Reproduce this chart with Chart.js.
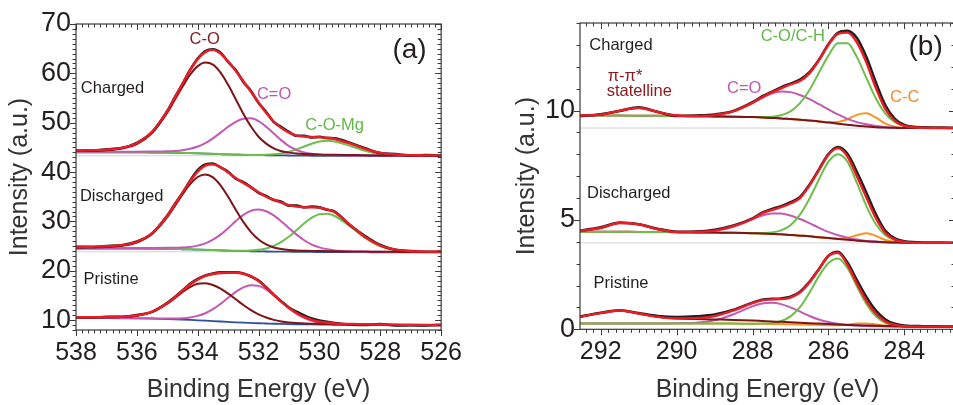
<!DOCTYPE html>
<html>
<head>
<meta charset="utf-8">
<script src="https://cdn.jsdelivr.net/npm/chart.js@4.4.1/dist/chart.umd.min.js"></script>
<style>
  html, body { margin: 0; padding: 0; background: #fff; }
  body { width: 953px; height: 405px; overflow: hidden; position: relative; }
  canvas { position: absolute; top: 0; }
  #chartO { left: 0; }
  #chartC { left: 478px; }
</style>
</head>
<body>
<canvas id="chartO" width="470" height="405"></canvas>
<canvas id="chartC" width="478" height="405"></canvas>
<script>
// ---- O 1s panel (a) ----
var energyO = [538, 537.5, 537, 536.5, 536, 535.5, 535, 534.75, 534.5, 534.25, 534, 533.75, 533.5, 533.25, 533, 532.75, 532.5, 532.25, 532, 531.75, 531.5, 531.25, 531, 530.75, 530.5, 530.25, 530, 529.75, 529.5, 529, 528.5, 528, 527.5, 527, 526.5, 526];

var chargedO_data = [44.37, 44.39, 44.6, 44.86, 45.93, 48.09, 52.37, 55.17, 57.81, 60.69, 63.01, 64.53, 64.85, 64.18, 62.32, 60.65, 58.27, 56.4, 54.0, 52.18, 50.15, 49.13, 48.13, 47.35, 47.35, 47.0, 47.15, 46.9, 46.85, 45.93, 44.83, 43.85, 43.63, 43.37, 43.44, 43.34];
var chargedO_fit = [44.37, 44.42, 44.55, 44.91, 45.85, 48.14, 52.34, 55.07, 57.89, 60.64, 62.88, 64.3, 64.75, 64.0, 62.4, 60.5, 58.4, 56.3, 54.1, 52.0, 50.2, 48.9, 48.0, 47.4, 47.2, 47.1, 47.05, 46.95, 46.7, 45.8, 44.7, 43.9, 43.55, 43.42, 43.39, 43.37];
var chargedO_CO = [44.25, 44.3, 44.43, 44.77, 45.68, 47.92, 52.03, 54.66, 57.29, 59.72, 61.46, 62.2, 61.76, 60.16, 57.67, 54.76, 51.82, 49.23, 47.16, 45.77, 44.81, 44.23, 43.94, 43.74, 43.64, 43.59, 43.55, 43.52, 43.49, 43.45, 43.41, 43.38, 43.36, 43.34, 43.33, 43.32];
var chargedO_CdO = [44.1, 44.1, 44.1, 44.12, 44.13, 44.16, 44.22, 44.29, 44.44, 44.72, 45.17, 45.88, 46.83, 47.99, 49.17, 50.18, 50.79, 50.88, 50.31, 49.19, 47.79, 46.42, 45.27, 44.48, 43.99, 43.69, 43.53, 43.44, 43.4, 43.37, 43.34, 43.32, 43.31, 43.29, 43.29, 43.29];
var chargedO_COMg = [44.02, 44.02, 44.02, 44.02, 44.0, 43.98, 43.95, 43.92, 43.88, 43.84, 43.79, 43.74, 43.69, 43.64, 43.59, 43.55, 43.51, 43.48, 43.46, 43.5, 43.59, 43.78, 44.12, 44.59, 45.18, 45.75, 46.19, 46.34, 46.2, 45.34, 44.29, 43.62, 43.34, 43.26, 43.25, 43.24];
var chargedO_bg = [44.0, 44.0, 44.0, 44.0, 43.98, 43.96, 43.93, 43.9, 43.86, 43.82, 43.77, 43.72, 43.67, 43.62, 43.57, 43.53, 43.49, 43.46, 43.43, 43.41, 43.39, 43.37, 43.36, 43.34, 43.33, 43.31, 43.3, 43.29, 43.28, 43.27, 43.26, 43.25, 43.25, 43.24, 43.24, 43.24];

var dischargedO_data = [24.85, 24.82, 25.01, 25.16, 25.92, 27.58, 31.19, 33.53, 35.75, 38.26, 40.4, 41.55, 41.7, 40.95, 40.08, 38.65, 37.95, 36.95, 35.77, 35.15, 34.35, 33.98, 33.2, 33.2, 32.82, 33.0, 32.85, 32.35, 32.0, 29.29, 27.04, 25.22, 24.24, 24.02, 23.85, 23.88];
var dischargedO_fit = [24.82, 24.87, 24.96, 25.19, 25.87, 27.63, 31.11, 33.43, 35.85, 38.11, 40.1, 41.3, 41.55, 41.0, 39.9, 38.8, 37.8, 36.9, 35.9, 35.0, 34.4, 33.8, 33.3, 33.0, 32.9, 32.85, 32.8, 32.45, 31.85, 29.34, 26.86, 25.12, 24.29, 23.97, 23.88, 23.85];
var dischargedO_CO = [24.7, 24.75, 24.84, 25.07, 25.73, 27.46, 30.88, 33.14, 35.47, 37.57, 39.0, 39.52, 38.93, 37.31, 34.98, 32.38, 29.91, 27.85, 26.34, 25.34, 24.73, 24.4, 24.21, 24.11, 24.07, 24.03, 24.0, 23.97, 23.94, 23.91, 23.88, 23.85, 23.84, 23.82, 23.81, 23.8];
var dischargedO_CdO = [24.6, 24.6, 24.6, 24.6, 24.6, 24.61, 24.64, 24.67, 24.72, 24.84, 25.1, 25.55, 26.29, 27.32, 28.64, 30.06, 31.32, 32.17, 32.43, 32.07, 31.21, 29.99, 28.63, 27.32, 26.19, 25.31, 24.74, 24.36, 24.13, 23.92, 23.86, 23.83, 23.82, 23.8, 23.79, 23.79];
var dischargedO_COMg = [24.52, 24.52, 24.52, 24.52, 24.5, 24.48, 24.45, 24.42, 24.38, 24.34, 24.29, 24.24, 24.19, 24.14, 24.09, 24.05, 24.05, 24.1, 24.24, 24.53, 25.05, 25.84, 26.93, 28.24, 29.6, 30.75, 31.46, 31.55, 31.1, 29.05, 26.64, 24.94, 24.13, 23.83, 23.76, 23.74];
var dischargedO_bg = [24.5, 24.5, 24.5, 24.5, 24.48, 24.46, 24.43, 24.4, 24.36, 24.32, 24.27, 24.22, 24.17, 24.12, 24.07, 24.03, 23.99, 23.96, 23.93, 23.91, 23.89, 23.87, 23.86, 23.84, 23.83, 23.81, 23.8, 23.79, 23.78, 23.77, 23.76, 23.75, 23.75, 23.74, 23.74, 23.74];

var pristineO_data = [10.57, 10.53, 10.66, 10.68, 11.02, 11.68, 13.49, 14.71, 16.01, 17.35, 18.35, 19.03, 19.45, 19.68, 19.68, 19.7, 19.45, 18.85, 18.0, 16.65, 15.15, 13.8, 12.55, 11.7, 10.95, 10.35, 9.93, 9.66, 9.43, 9.11, 9.0, 9.21, 8.93, 8.95, 8.93, 9.07];
var pristineO_fit = [10.57, 10.58, 10.61, 10.68, 10.94, 11.73, 13.44, 14.63, 15.96, 17.22, 18.2, 18.95, 19.35, 19.55, 19.6, 19.6, 19.4, 18.9, 17.9, 16.6, 15.1, 13.7, 12.45, 11.4, 10.6, 10.05, 9.68, 9.46, 9.33, 9.21, 9.15, 9.11, 9.08, 9.05, 9.03, 9.02];
var pristineO_CO = [10.52, 10.53, 10.56, 10.63, 10.89, 11.67, 13.35, 14.47, 15.68, 16.71, 17.36, 17.48, 17.12, 16.38, 15.37, 14.22, 13.06, 12.02, 11.15, 10.52, 10.05, 9.74, 9.54, 9.41, 9.34, 9.29, 9.25, 9.22, 9.19, 9.14, 9.1, 9.07, 9.04, 9.02, 9.0, 8.99];
var pristineO_CdO = [10.47, 10.46, 10.45, 10.43, 10.4, 10.36, 10.31, 10.33, 10.39, 10.55, 10.86, 11.39, 12.21, 13.3, 14.52, 15.71, 16.64, 17.09, 16.94, 16.23, 15.08, 13.74, 12.43, 11.3, 10.44, 9.88, 9.53, 9.32, 9.2, 9.1, 9.05, 9.02, 9.0, 8.98, 8.97, 8.96];
var pristineO_bg = [10.42, 10.41, 10.4, 10.38, 10.35, 10.3, 10.22, 10.17, 10.11, 10.04, 9.96, 9.88, 9.8, 9.72, 9.64, 9.56, 9.49, 9.43, 9.37, 9.32, 9.27, 9.23, 9.2, 9.17, 9.14, 9.12, 9.1, 9.08, 9.06, 9.03, 9.0, 8.98, 8.96, 8.95, 8.94, 8.93];

var refLevelsO = [43.3, 23.85];
var xTicksO = [538, 536, 534, 532, 530, 528, 526];
var yTicksO = [10, 20, 30, 40, 50, 60, 70];

// ---- C 1s panel (b) ----
var energyC = [292.6, 292, 291.5, 291, 290.5, 290, 289.5, 289, 288.5, 288, 287.75, 287.5, 287.25, 287, 286.75, 286.5, 286.25, 286, 285.75, 285.5, 285.25, 285, 284.75, 284.5, 284.25, 284, 283.5, 283, 282.5];

var chargedC_data = [9.74, 9.83, 9.98, 10.15, 9.94, 9.75, 9.77, 9.82, 9.98, 10.38, 10.64, 10.85, 11.06, 11.23, 11.41, 11.75, 12.32, 13.03, 13.55, 13.64, 13.31, 12.44, 11.28, 10.24, 9.62, 9.34, 9.23, 9.22, 9.2];
var chargedC_fit = [9.77, 9.81, 9.99, 10.12, 9.93, 9.77, 9.75, 9.79, 9.97, 10.35, 10.6, 10.82, 11.01, 11.19, 11.35, 11.7, 12.3, 13.0, 13.5, 13.56, 13.11, 12.19, 11.03, 10.06, 9.53, 9.3, 9.21, 9.2, 9.2];
var chargedC_COCH = [9.77, 9.77, 9.77, 9.76, 9.76, 9.75, 9.74, 9.73, 9.72, 9.7, 9.7, 9.71, 9.78, 9.96, 10.34, 10.94, 11.73, 12.51, 13.08, 13.08, 12.44, 11.49, 10.55, 9.86, 9.47, 9.29, 9.21, 9.2, 9.2];
var chargedC_CdO = [9.77, 9.77, 9.77, 9.76, 9.76, 9.75, 9.75, 9.79, 9.97, 10.35, 10.58, 10.77, 10.87, 10.84, 10.71, 10.52, 10.29, 10.05, 9.82, 9.62, 9.47, 9.37, 9.29, 9.24, 9.22, 9.2, 9.2, 9.2, 9.2];
var chargedC_CC = [9.77, 9.77, 9.77, 9.76, 9.76, 9.75, 9.74, 9.73, 9.72, 9.7, 9.68, 9.66, 9.64, 9.61, 9.58, 9.54, 9.5, 9.46, 9.48, 9.6, 9.8, 9.87, 9.67, 9.4, 9.26, 9.21, 9.2, 9.2, 9.2];
var chargedC_pi = [9.77, 9.81, 9.99, 10.12, 9.93, 9.77, 9.74, 9.73, 9.72, 9.7, 9.68, 9.66, 9.64, 9.61, 9.58, 9.54, 9.5, 9.45, 9.4, 9.35, 9.3, 9.27, 9.24, 9.22, 9.21, 9.2, 9.2, 9.2, 9.2];

var dischargedC_data = [4.49, 4.66, 4.88, 4.8, 4.6, 4.46, 4.47, 4.55, 4.74, 5.07, 5.33, 5.49, 5.63, 5.81, 6.05, 6.61, 7.31, 8.01, 8.33, 8.02, 7.19, 6.24, 5.26, 4.5, 4.15, 4.02, 3.97, 3.97, 3.95];
var dischargedC_fit = [4.48, 4.63, 4.86, 4.8, 4.57, 4.45, 4.45, 4.51, 4.71, 5.04, 5.3, 5.45, 5.58, 5.75, 6.0, 6.57, 7.28, 7.98, 8.28, 7.9, 6.99, 6.02, 5.08, 4.4, 4.1, 3.99, 3.95, 3.95, 3.95];
var dischargedC_COCH = [4.46, 4.46, 4.46, 4.45, 4.45, 4.44, 4.43, 4.42, 4.41, 4.39, 4.4, 4.42, 4.52, 4.76, 5.24, 5.97, 6.85, 7.66, 8.0, 7.66, 6.69, 5.63, 4.8, 4.3, 4.08, 3.99, 3.95, 3.95, 3.95];
var dischargedC_CdO = [4.46, 4.46, 4.46, 4.45, 4.45, 4.44, 4.45, 4.51, 4.71, 5.04, 5.2, 5.29, 5.29, 5.2, 5.04, 4.85, 4.64, 4.45, 4.3, 4.19, 4.1, 4.04, 4.01, 3.98, 3.97, 3.96, 3.95, 3.95, 3.95];
var dischargedC_CC = [4.46, 4.46, 4.46, 4.45, 4.45, 4.44, 4.43, 4.42, 4.41, 4.39, 4.38, 4.36, 4.34, 4.31, 4.28, 4.25, 4.21, 4.17, 4.14, 4.18, 4.3, 4.39, 4.27, 4.08, 3.99, 3.96, 3.95, 3.95, 3.95];
var dischargedC_pi = [4.48, 4.63, 4.86, 4.8, 4.57, 4.45, 4.43, 4.42, 4.41, 4.39, 4.38, 4.36, 4.34, 4.31, 4.28, 4.25, 4.21, 4.17, 4.13, 4.09, 4.05, 4.02, 4.0, 3.98, 3.97, 3.96, 3.95, 3.95, 3.95];

var pristineC_data = [0.56, 0.76, 0.87, 0.74, 0.61, 0.56, 0.59, 0.67, 0.89, 1.22, 1.35, 1.39, 1.41, 1.49, 1.72, 2.17, 2.76, 3.36, 3.54, 3.05, 2.25, 1.48, 0.85, 0.45, 0.25, 0.17, 0.14, 0.13, 0.12];
var pristineC_fit = [0.55, 0.74, 0.86, 0.72, 0.57, 0.5, 0.51, 0.6, 0.86, 1.2, 1.32, 1.37, 1.38, 1.45, 1.68, 2.14, 2.74, 3.35, 3.5, 2.95, 2.09, 1.3, 0.71, 0.36, 0.2, 0.14, 0.12, 0.12, 0.12];
var pristineC_COCH = [0.27, 0.27, 0.27, 0.27, 0.27, 0.27, 0.26, 0.26, 0.26, 0.25, 0.26, 0.28, 0.37, 0.59, 1.01, 1.67, 2.43, 3.03, 3.24, 2.8, 1.96, 1.16, 0.6, 0.3, 0.18, 0.13, 0.12, 0.12, 0.12];
var pristineC_CdO = [0.27, 0.27, 0.27, 0.27, 0.27, 0.28, 0.3, 0.41, 0.69, 1.05, 1.18, 1.21, 1.15, 1.0, 0.81, 0.61, 0.45, 0.33, 0.25, 0.2, 0.17, 0.15, 0.14, 0.13, 0.13, 0.12, 0.12, 0.12, 0.12];
var pristineC_CC = [0.27, 0.27, 0.27, 0.27, 0.27, 0.27, 0.26, 0.26, 0.26, 0.25, 0.25, 0.24, 0.24, 0.23, 0.22, 0.21, 0.2, 0.19, 0.18, 0.22, 0.26, 0.27, 0.225, 0.17, 0.14, 0.12, 0.12, 0.12, 0.12];
var pristineC_pi = [0.55, 0.74, 0.86, 0.72, 0.57, 0.49, 0.47, 0.45, 0.43, 0.4, 0.38, 0.36, 0.34, 0.32, 0.3, 0.28, 0.26, 0.24, 0.22, 0.2, 0.18, 0.17, 0.16, 0.15, 0.14, 0.13, 0.12, 0.12, 0.12];

var refLevelsC = [9.2, 3.95];
var xTicksC = [292, 290, 288, 286, 284];
var yTicksC = [0, 5, 10];

// ---- styling ----
var FONT = "'Liberation Sans', Arial, Helvetica, sans-serif";
var INK = '#231f20';
var COL = {
  data: '#231f20', fit: '#ed1c24', co: '#7d1517', cdo: '#c25ab5',
  green: '#6bbf4a', bg: '#2f4f9f', cc: '#f7931e', ref: '#d4d4d4'
};

function line(xs, ys, color, width) {
  return {
    data: xs.map(function(x, i) { return { x: x, y: ys[i] }; }),
    borderColor: color, borderWidth: width, pointRadius: 0, fill: false,
    cubicInterpolationMode: 'monotone'
  };
}

function refLine(x0, x1, level) {
  return {
    data: [{ x: x0, y: level }, { x: x1, y: level }],
    borderColor: COL.ref, borderWidth: 1, pointRadius: 0, fill: false
  };
}

// steps through min..max, flags values that land on a major step
function eachTick(min, max, step, major, fn) {
  var n0 = Math.ceil(min / step - 1e-6), n1 = Math.floor(max / step + 1e-6);
  for (var n = n0; n <= n1; n++) {
    var v = n * step, r = v / major;
    fn(v, Math.abs(r - Math.round(r)) < 1e-6);
  }
}

// box frame with minor ticks (out on left/bottom, in on top/right) plus the peak notes
var frameTicks = {
  id: 'frameTicks',
  afterDatasetsDraw: function(chart, args, opts) {
    var ctx = chart.ctx, a = chart.chartArea, x = chart.scales.x, y = chart.scales.y;
    ctx.save();
    ctx.strokeStyle = '#3a3a3a';
    ctx.lineWidth = 1.2;
    ctx.strokeRect(a.left, a.top, a.right - a.left, a.bottom - a.top);
    ctx.lineWidth = 1;
    ctx.beginPath();
    eachTick(x.min, x.max, opts.xMinor, opts.xMajor, function(v, major) {
      var px = Math.round(x.getPixelForValue(v)) + 0.5, len = major ? 6 : 3.5;
      ctx.moveTo(px, a.bottom); ctx.lineTo(px, a.bottom + len);
      ctx.moveTo(px, a.top); ctx.lineTo(px, a.top + len);
    });
    eachTick(y.min, y.max, opts.yMinor, opts.yMajor, function(v, major) {
      var py = Math.round(y.getPixelForValue(v)) + 0.5, len = major ? 6 : 3.5;
      ctx.moveTo(a.left, py); ctx.lineTo(a.left - len, py);
      ctx.moveTo(a.right, py); ctx.lineTo(a.right - len, py);
    });
    ctx.stroke();

    ctx.textBaseline = 'middle';
    opts.notes.forEach(function(n) {
      ctx.font = (n.size || 16.5) + 'px ' + FONT;
      ctx.fillStyle = n.color || INK;
      ctx.textAlign = n.align || 'left';
      ctx.fillText(n.text, x.getPixelForValue(n.e), y.getPixelForValue(n.i));
    });
    ctx.restore();
  }
};

function buildScales(c) {
  return {
    x: {
      type: 'linear', reverse: true, min: c.xMin, max: c.xMax,
      grid: { display: false, drawTicks: false }, border: { display: false },
      afterBuildTicks: function(s) { s.ticks = c.xTicks.map(function(v) { return { value: v }; }); },
      afterFit: function(s) { s.height = c.xHeight; },
      ticks: { color: INK, font: { family: FONT, size: 25 }, padding: 8, maxRotation: 0, autoSkip: false },
      title: { display: true, text: 'Binding Energy (eV)', color: '#333', font: { family: FONT, size: 25 }, padding: { top: 0, bottom: 0 } }
    },
    y: {
      type: 'linear', min: c.yMin, max: c.yMax,
      grid: { display: false, drawTicks: false }, border: { display: false },
      afterBuildTicks: function(s) { s.ticks = c.yTicks.map(function(v) { return { value: v }; }); },
      afterFit: function(s) { s.width = c.yWidth; },
      ticks: { color: INK, font: { family: FONT, size: 27 }, padding: 5, autoSkip: false },
      title: { display: true, text: 'Intensity (a.u.)', color: '#333', font: { family: FONT, size: 25 }, padding: { top: c.yTitlePad, bottom: 0 } }
    }
  };
}

function makeChart(id, datasets, scaleCfg, padding, frame) {
  return new Chart(document.getElementById(id).getContext('2d'), {
    type: 'line',
    data: { datasets: datasets },
    options: {
      responsive: false, animation: false, devicePixelRatio: 1,
      layout: { padding: padding },
      plugins: { legend: { display: false }, tooltip: { enabled: false }, frameTicks: frame },
      scales: buildScales(scaleCfg)
    },
    plugins: [frameTicks]
  });
}

// panel (a): O 1s; first datasets are drawn on top
var dsO = [
  line(energyO, chargedO_fit, COL.fit, 2.4),
  line(energyO, dischargedO_fit, COL.fit, 2.4),
  line(energyO, pristineO_fit, COL.fit, 2.4),
  line(energyO, chargedO_data, COL.data, 2.6),
  line(energyO, dischargedO_data, COL.data, 2.6),
  line(energyO, pristineO_data, COL.data, 2.6),
  line(energyO, chargedO_CO, COL.co, 2),
  line(energyO, dischargedO_CO, COL.co, 2),
  line(energyO, pristineO_CO, COL.co, 2),
  line(energyO, chargedO_CdO, COL.cdo, 2),
  line(energyO, dischargedO_CdO, COL.cdo, 2),
  line(energyO, pristineO_CdO, COL.cdo, 2),
  line(energyO, chargedO_COMg, COL.green, 2),
  line(energyO, dischargedO_COMg, COL.green, 2),
  line(energyO, chargedO_bg, COL.bg, 1.8),
  line(energyO, dischargedO_bg, COL.bg, 1.8),
  line(energyO, pristineO_bg, COL.bg, 1.8)
].concat(refLevelsO.map(function(v) { return refLine(538, 526, v); }));

makeChart('chartO', dsO,
  { xMin: 526, xMax: 538, xTicks: xTicksO, xHeight: 75, yMin: 8, yMax: 70, yTicks: yTicksO, yWidth: 76, yTitlePad: 5 },
  { left: 0, right: 14, top: 24, bottom: 0 },
  {
    xMinor: 0.2, xMajor: 2, yMinor: 1, yMajor: 10,
    notes: [
      { text: 'C-O', e: 533.77, i: 66.96, color: '#8a1c20', align: 'center' },
      { text: '(a)', e: 527.04, i: 64.6, size: 28, align: 'center' },
      { text: 'Charged', e: 537.84, i: 56.9 },
      { text: 'C=O', e: 531.49, i: 55.7, color: '#c156b3', align: 'center' },
      { text: 'C-O-Mg', e: 529.5, i: 49.5, color: '#62b848', align: 'center' },
      { text: 'Discharged', e: 537.87, i: 35.08 },
      { text: 'Pristine', e: 537.75, i: 18.19 }
    ]
  });

// panel (b): C 1s
var dsC = [
  line(energyC, chargedC_fit, COL.fit, 2.4),
  line(energyC, dischargedC_fit, COL.fit, 2.4),
  line(energyC, pristineC_fit, COL.fit, 2.4),
  line(energyC, chargedC_data, COL.data, 2.6),
  line(energyC, dischargedC_data, COL.data, 2.6),
  line(energyC, pristineC_data, COL.data, 2.6),
  line(energyC, chargedC_pi, COL.co, 2),
  line(energyC, dischargedC_pi, COL.co, 2),
  line(energyC, pristineC_pi, COL.co, 2),
  line(energyC, chargedC_COCH, COL.green, 2),
  line(energyC, dischargedC_COCH, COL.green, 2),
  line(energyC, pristineC_COCH, COL.green, 2),
  line(energyC, chargedC_CdO, COL.cdo, 2),
  line(energyC, dischargedC_CdO, COL.cdo, 2),
  line(energyC, pristineC_CdO, COL.cdo, 2),
  line(energyC, chargedC_CC, COL.cc, 2),
  line(energyC, dischargedC_CC, COL.cc, 2),
  line(energyC, pristineC_CC, COL.cc, 2)
].concat(refLevelsC.map(function(v) { return refLine(292.6, 282.5, v); }));

makeChart('chartC', dsC,
  { xMin: 282.666, xMax: 292.545, xTicks: xTicksC, xHeight: 75.7, yMin: 0, yMax: 14, yTicks: yTicksC, yWidth: 102, yTitlePad: 34 },
  { left: 0, right: 1, top: 23, bottom: 0 },
  {
    xMinor: 0.2, xMajor: 2, yMinor: 1, yMajor: 5,
    notes: [
      { text: 'Charged', e: 292.3, i: 12.97 },
      { text: 'C-O/C-H', e: 286.94, i: 13.37, color: '#62b848', align: 'center' },
      { text: '(b)', e: 283.44, i: 12.91, size: 28, align: 'center' },
      { text: 'π-π*', e: 291.36, i: 11.55, color: '#8a1c20', align: 'center' },
      { text: 'statelline', e: 291.84, i: 10.88, color: '#8a1c20' },
      { text: 'C=O', e: 288.22, i: 11.0, color: '#c156b3', align: 'center' },
      { text: 'C-C', e: 283.99, i: 10.6, color: '#f58a2a', align: 'center' },
      { text: 'Discharged', e: 292.36, i: 6.2 },
      { text: 'Pristine', e: 292.19, i: 2.09 }
    ]
  });
</script>
</body>
</html>
